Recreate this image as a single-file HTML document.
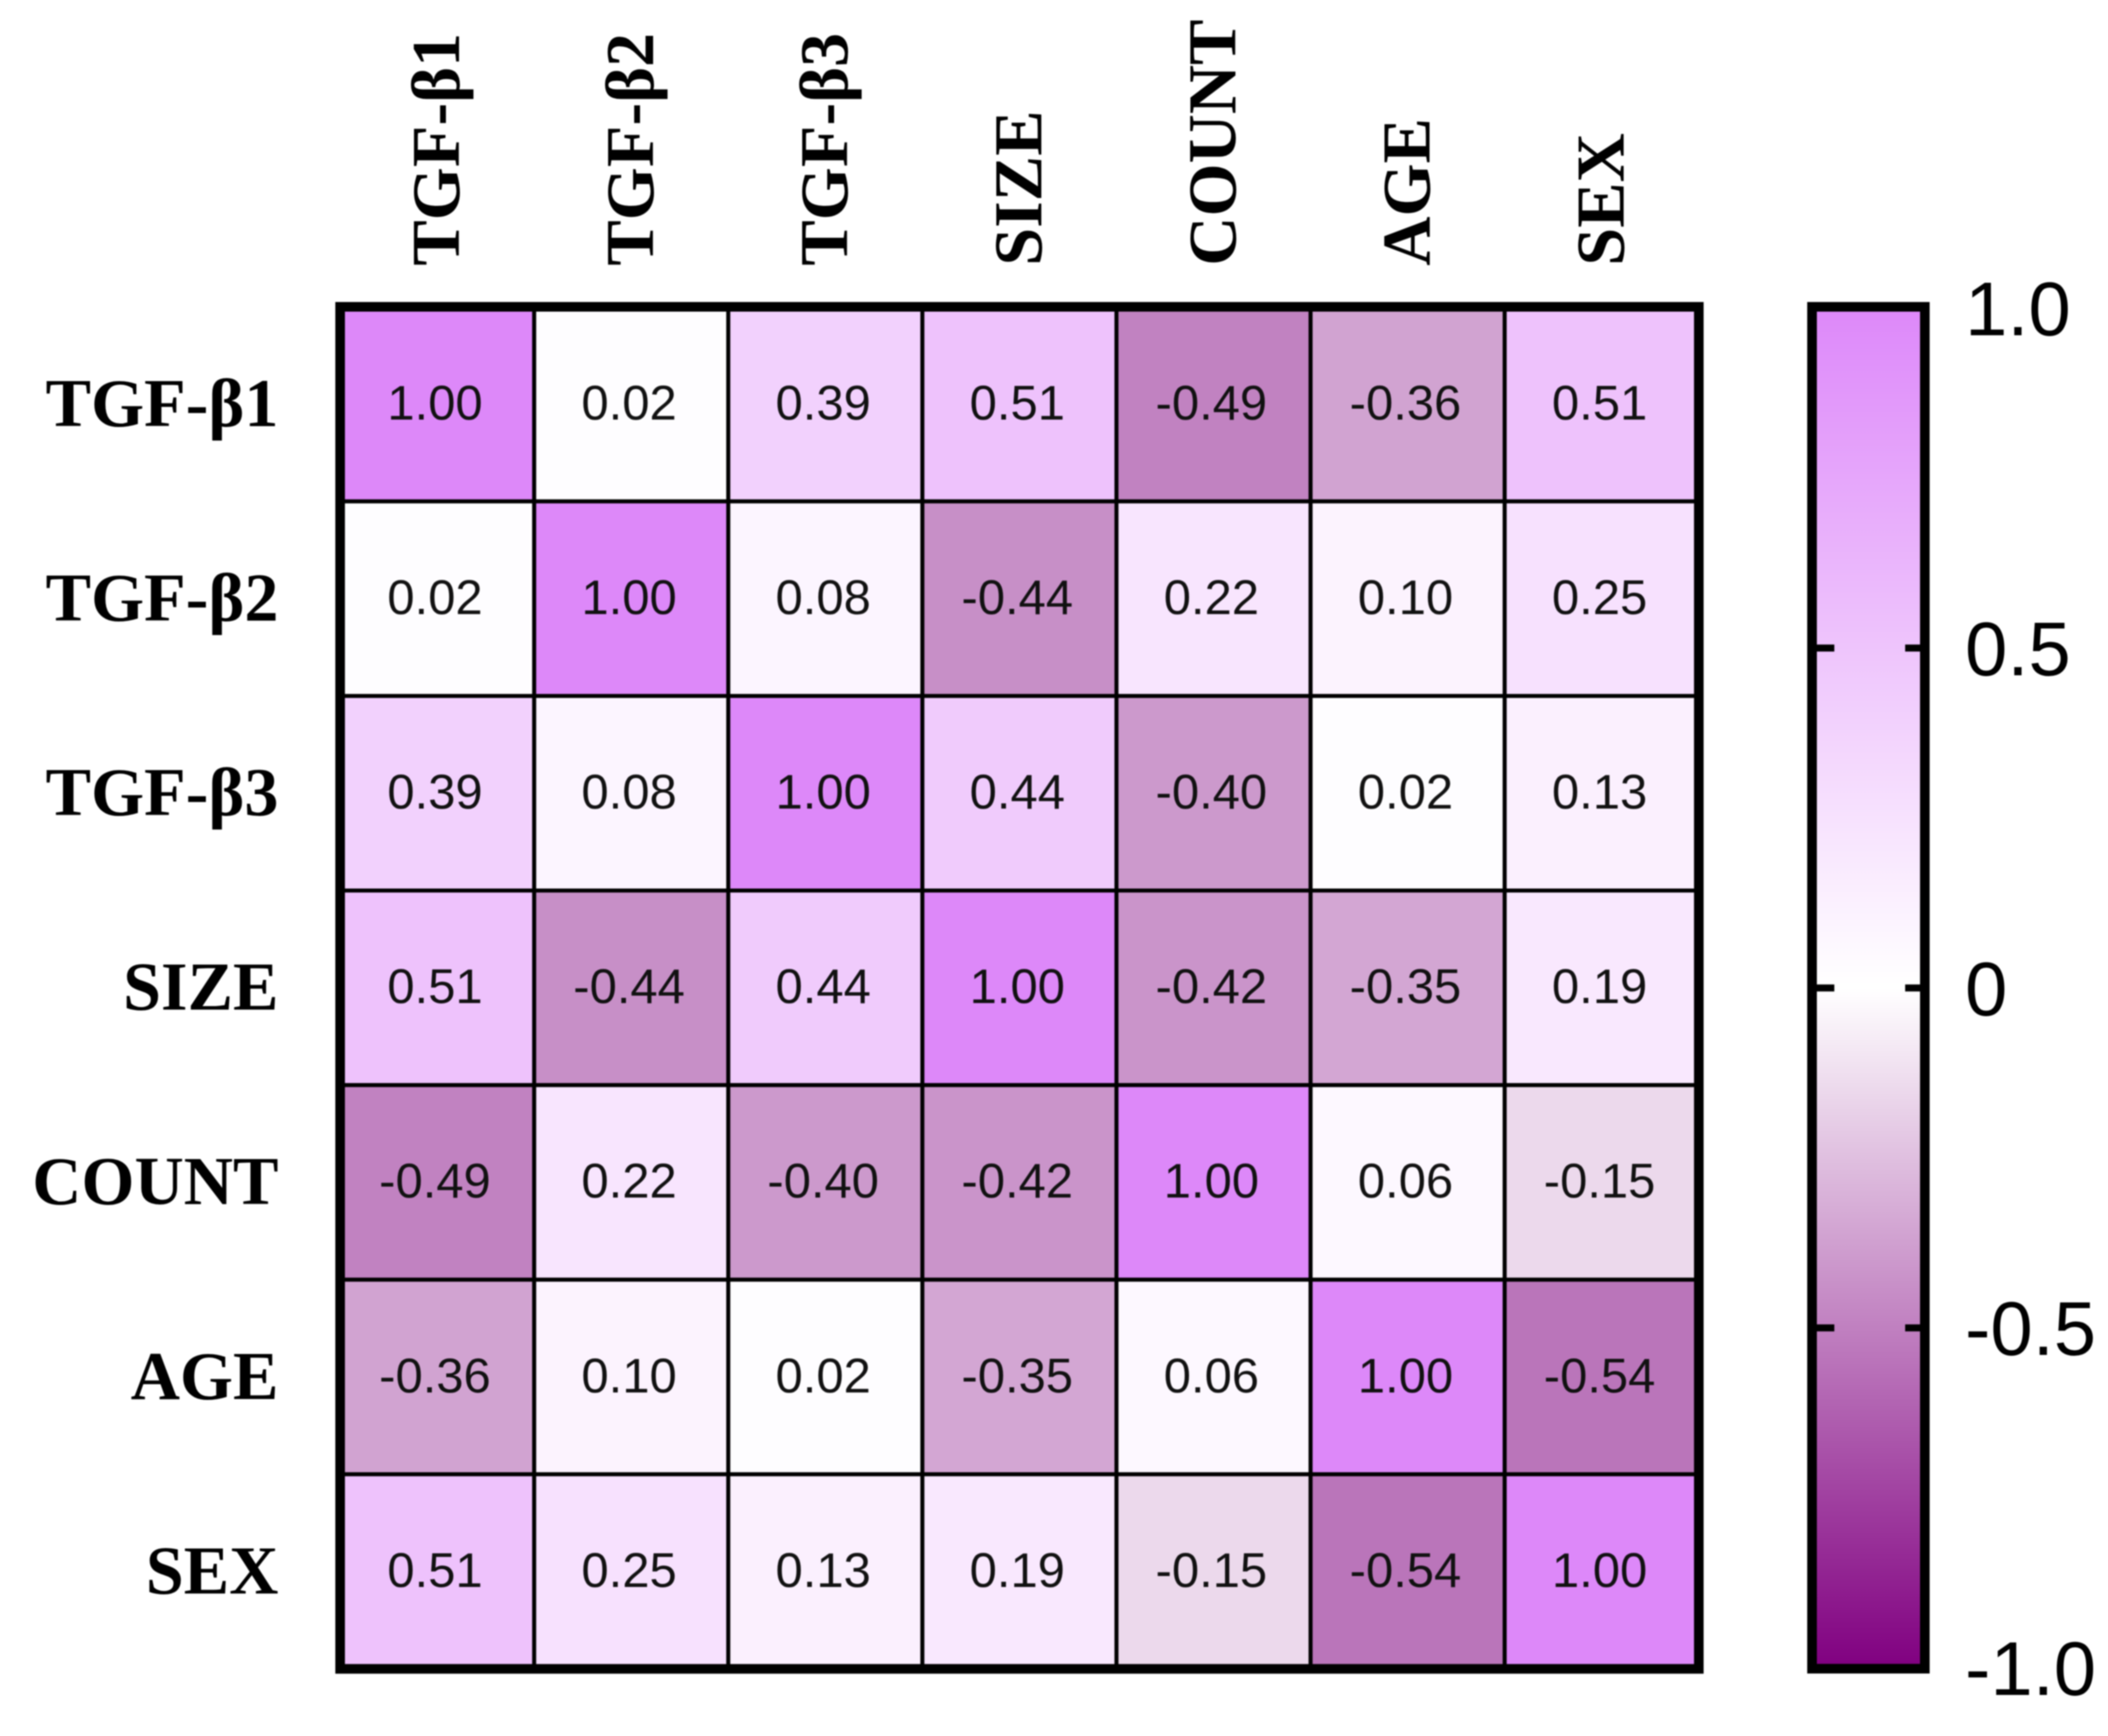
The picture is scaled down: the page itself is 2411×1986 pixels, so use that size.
<!DOCTYPE html>
<html lang="en">
<head>
<meta charset="utf-8">
<title>Correlation heatmap</title>
<style>
html,body{margin:0;padding:0;background:#fff;}
svg{display:block;filter:blur(0.9px);}
.cell-text{font-family:"Liberation Sans",Arial,sans-serif;font-size:56px;fill:#111;text-anchor:middle;}
.axis-text{font-family:"Liberation Serif","Times New Roman",serif;font-weight:bold;font-size:78px;fill:#000;}
.bar-text{font-family:"Liberation Sans",Arial,sans-serif;font-size:87px;fill:#000;}
</style>
</head>
<body>
<svg id="chart" xmlns="http://www.w3.org/2000/svg" width="2411" height="1986" viewBox="0 0 2411 1986">
<rect x="0" y="0" width="2411" height="1986" fill="#ffffff"/>
<defs><linearGradient id="bar-gradient" gradientUnits="userSpaceOnUse" x1="0" x2="0" y1="352" y2="1907"></linearGradient></defs>
<g id="cells"></g>
<g id="labels"></g>
<g id="colorbar"></g>
</svg>
<script>
const rowLabels = ["TGF-β1","TGF-β2","TGF-β3","SIZE","COUNT","AGE","SEX"];
const colLabels = ["TGF-β1","TGF-β2","TGF-β3","SIZE","COUNT","AGE","SEX"];
const rowTgfB1 = [1.00,0.02,0.39,0.51,-0.49,-0.36,0.51];
const rowTgfB2 = [0.02,1.00,0.08,-0.44,0.22,0.10,0.25];
const rowTgfB3 = [0.39,0.08,1.00,0.44,-0.40,0.02,0.13];
const rowSize = [0.51,-0.44,0.44,1.00,-0.42,-0.35,0.19];
const rowCount = [-0.49,0.22,-0.40,-0.42,1.00,0.06,-0.15];
const rowAge = [-0.36,0.10,0.02,-0.35,0.06,1.00,-0.54];
const rowSex = [0.51,0.25,0.13,0.19,-0.15,-0.54,1.00];
const matrix = [rowTgfB1,rowTgfB2,rowTgfB3,rowSize,rowCount,rowAge,rowSex];
const legendTicks = [1,0.5,0,-0.5,-1];
const legendTickLabels = ["1.0","0.5","0","-0.5","-1.0"];

const NS = "http://www.w3.org/2000/svg";
const gridLeft = 389, gridTop = 351, cellW = 222, cellH = 222.6;
const barLeft = 2072.5, barRight = 2201.5, barTop = 351, barBottom = 1909;
const scaleTop = 352.5, scaleBottom = 1908;

function xScale(i){ return gridLeft + i * cellW; }
function yScale(i){ return gridTop + i * cellH; }
function legendY(v){ return scaleTop + (1 - v) / 2 * (scaleBottom - scaleTop); }
function colorScale(v){
  const t = Math.min(1, Math.abs(v));
  const end = v >= 0 ? [221,136,249] : [128,0,128];
  const c = end.map(function(e){ return Math.round(255 + (e - 255) * t); });
  return "rgb(" + c.join(",") + ")";
}
function make(tag, attrs, parent){
  const el = document.createElementNS(NS, tag);
  for (const k in attrs) el.setAttribute(k, attrs[k]);
  parent.appendChild(el);
  return el;
}

const cellsG = document.getElementById("cells");
const labelsG = document.getElementById("labels");
const barG = document.getElementById("colorbar");
const gradient = document.getElementById("bar-gradient");

matrix.forEach(function(row, r){
  row.forEach(function(v, c){
    const rect = make("rect", {x:xScale(c), y:yScale(r), width:cellW, height:cellH, fill:colorScale(v), stroke:"#000", "stroke-width":4.5}, cellsG);
    
    
    const txt = make("text", {x:xScale(c) + cellW / 2 - 2.5, y:yScale(r) + cellH / 2 + 17.5, class:"cell-text"}, cellsG);
    txt.textContent = v.toFixed(2);
    
    
  });
});

const frame = make("rect", {x:gridLeft, y:gridTop, width:cellW * colLabels.length, height:cellH * rowLabels.length, fill:"none", stroke:"#000", "stroke-width":11}, cellsG);



rowLabels.forEach(function(name, r){
  const t = make("text", {x:318.5, y:yScale(r) + cellH / 2 + 25, "text-anchor":"end", class:"axis-text"}, labelsG);
  t.textContent = name;
  
  
});

colLabels.forEach(function(name, c){
  const bx = xScale(c) + cellW / 2 + 25;
  const t = make("text", {x:bx, y:304, "text-anchor":"start", transform:"rotate(-90 " + bx + " 304)", class:"axis-text"}, labelsG);
  t.textContent = name;
  
  
});

legendTicks.forEach(function(v){
  make("stop", {offset:(1 - v) / 2, "stop-color":colorScale(v)}, gradient);
});

const barBody = make("rect", {x:barLeft, y:barTop, width:barRight - barLeft, height:barBottom - barTop, fill:"url(#bar-gradient)", stroke:"#000", "stroke-width":11}, barG);



legendTicks.forEach(function(v, i){
  const y = legendY(v);
  if (v < 1 && v > -1) {
    const tl = make("line", {x1:barLeft, x2:2098, y1:y, y2:y, stroke:"#000", "stroke-width":8}, barG);
    
    
    const tr = make("line", {x1:2179, x2:barRight, y1:y, y2:y, stroke:"#000", "stroke-width":8}, barG);
    
    
  }
  const t = make("text", {x:2247.5, y:y + 31, class:"bar-text"}, barG);
  t.textContent = legendTickLabels[i];
  
  
});
</script>
</body>
</html>
